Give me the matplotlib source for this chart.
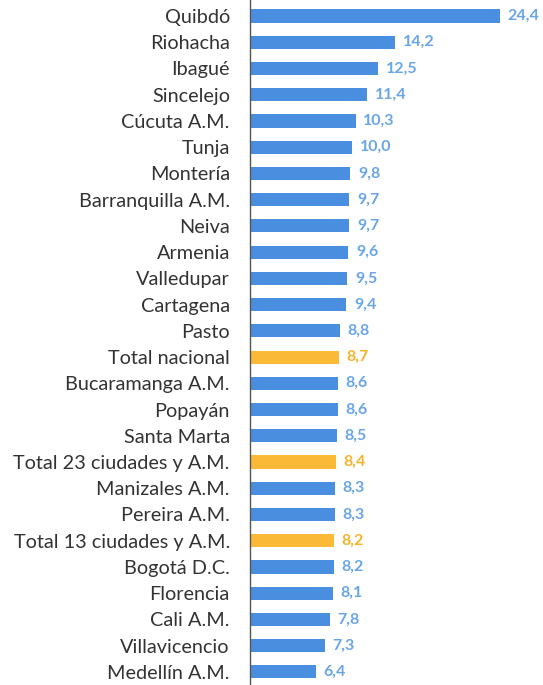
import matplotlib.pyplot as plt

# categories and values (top to bottom)
cities = ['Quibdó', 'Riohacha', 'Ibagué', 'Sincelejo', 'Cúcuta A.M.', 'Tunja', 'Montería',
          'Barranquilla A.M.', 'Neiva', 'Armenia', 'Valledupar', 'Cartagena', 'Pasto',
          'Total nacional', 'Bucaramanga A.M.', 'Popayán', 'Santa Marta',
          'Total 23 ciudades y A.M.', 'Manizales A.M.', 'Pereira A.M.',
          'Total 13 ciudades y A.M.', 'Bogotá D.C.', 'Florencia', 'Cali A.M.',
          'Villavicencio', 'Medellín A.M.']
values = [24.4, 14.2, 12.5, 11.4, 10.3, 10.0, 9.8, 9.7, 9.7, 9.6, 9.5, 9.4, 8.8,
          8.7, 8.6, 8.6, 8.5, 8.4, 8.3, 8.3, 8.2, 8.2, 8.1, 7.8, 7.3, 6.4]

BLUE = '#4a8ee0'
BLUE_TXT = '#6aa6e6'
ORANGE = '#fbb938'
ORANGE_TXT = '#f6b42c'

plt.rcParams['font.family'] = ['Lato', 'DejaVu Sans']

fig = plt.figure(figsize=(5.43, 6.85), dpi=100)
ax = fig.add_axes([250 / 543, 0, 1 - 250 / 543, 1])

ypos = list(range(len(cities)))
is_total = [c.startswith('Total') for c in cities]
colors = [ORANGE if t else BLUE for t in is_total]
ax.barh(ypos, values, height=0.5, color=colors, edgecolor='none')

for y, v, t in zip(ypos, values, is_total):
    ax.text(v + 0.75, y, f'{v:.1f}'.replace('.', ','), va='center', ha='left',
            fontsize=11.5, fontweight='bold', color=ORANGE_TXT if t else BLUE_TXT)

ax.set_xlim(0, 28.6)
ax.set_ylim(25.5, -0.61)
ax.set_yticks(ypos)
ax.set_yticklabels(cities, fontsize=14.3, color='#333333')
ax.tick_params(axis='y', length=0, pad=14.5)
ax.set_xticks([])
for side in ['top', 'right', 'bottom']:
    ax.spines[side].set_visible(False)
ax.spines['left'].set_color('#555555')
ax.spines['left'].set_linewidth(1.0)

fig.savefig('out.png', dpi=100)
